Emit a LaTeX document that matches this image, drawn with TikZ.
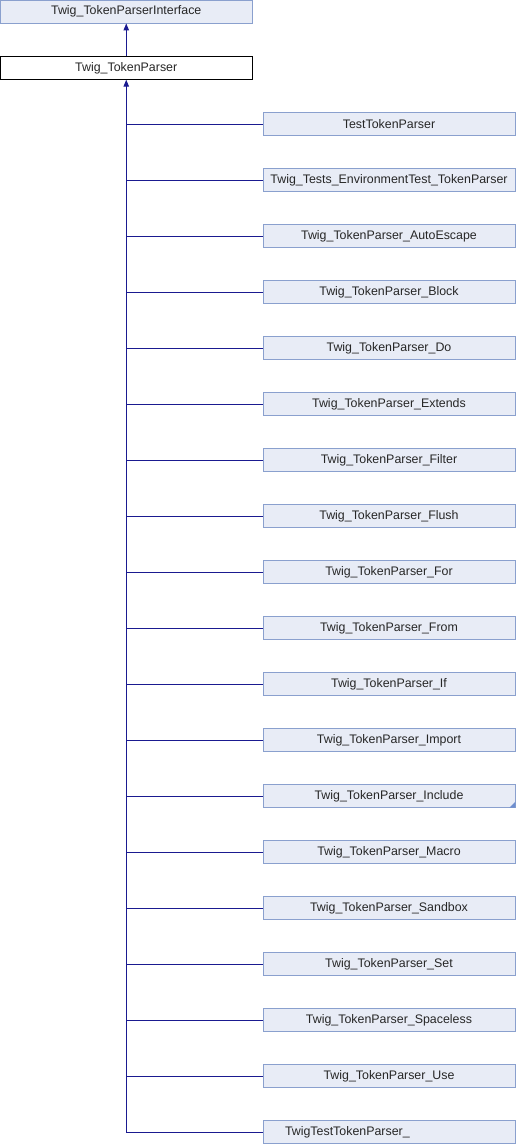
\documentclass[tikz,border=0pt]{standalone}
\usepackage{fontspec}
\setmainfont{Liberation Sans}
\usetikzlibrary{arrows.meta}
\definecolor{boxfill}{HTML}{E8ECF6}
\definecolor{boxedge}{HTML}{8AA0CE}
\definecolor{linkblue}{HTML}{1A1A90}
\definecolor{cornerblue}{HTML}{6F8FCF}
\tikzset{
  cls/.style={draw=boxedge, fill=boxfill, line width=0.9pt, minimum width=252pt, minimum height=22.5pt, inner sep=0pt, font=\fontsize{12.4}{14}\selectfont, text=black!85},
  cur/.style={draw=black, fill=white, line width=0.9pt, minimum width=251.5pt, minimum height=22.5pt, inner sep=0pt, font=\fontsize{12.4}{14}\selectfont, text=black!85},
  conn/.style={draw=linkblue, line width=1pt},
  inh/.style={conn, -{Triangle[length=7pt,width=5.5pt]}}
}
\begin{document}
\begin{tikzpicture}[x=1pt,y=-1pt]
\useasboundingbox (0,0) rectangle (516,1144);
\node[cls] (iface) at (126.25,11.75) {Twig\_TokenParserInterface};
\node[cur] (tp) at (126.25,68) {Twig\_TokenParser};
\draw[inh] (tp.north) -- (iface.south);
\foreach \i/\name in {0/TestTokenParser,1/Twig\_Tests\_EnvironmentTest\_TokenParser,2/Twig\_TokenParser\_AutoEscape,3/Twig\_TokenParser\_Block,4/Twig\_TokenParser\_Do,5/Twig\_TokenParser\_Extends,6/Twig\_TokenParser\_Filter,7/Twig\_TokenParser\_Flush,8/Twig\_TokenParser\_For,9/Twig\_TokenParser\_From,10/Twig\_TokenParser\_If,11/Twig\_TokenParser\_Import,12/Twig\_TokenParser\_Include,13/Twig\_TokenParser\_Macro,14/Twig\_TokenParser\_Sandbox,15/Twig\_TokenParser\_Set,16/Twig\_TokenParser\_Spaceless,17/Twig\_TokenParser\_Use}{
  \node[cls] (c\i) at (389,124+56*\i) {\name};
  \draw[conn] (c\i.west) -- (c\i.west -| tp.south);
}
\node[cls, text width=208pt, align=left, inner xsep=22pt] (c18) at (389,1132) {TwigTestTokenParser\_};
\draw[inh] (c18.west) -| (tp.south);
\fill[cornerblue] (c12.south east) -- ++(-6,0) -- ++(6,-6) -- cycle;
\end{tikzpicture}
\end{document}
